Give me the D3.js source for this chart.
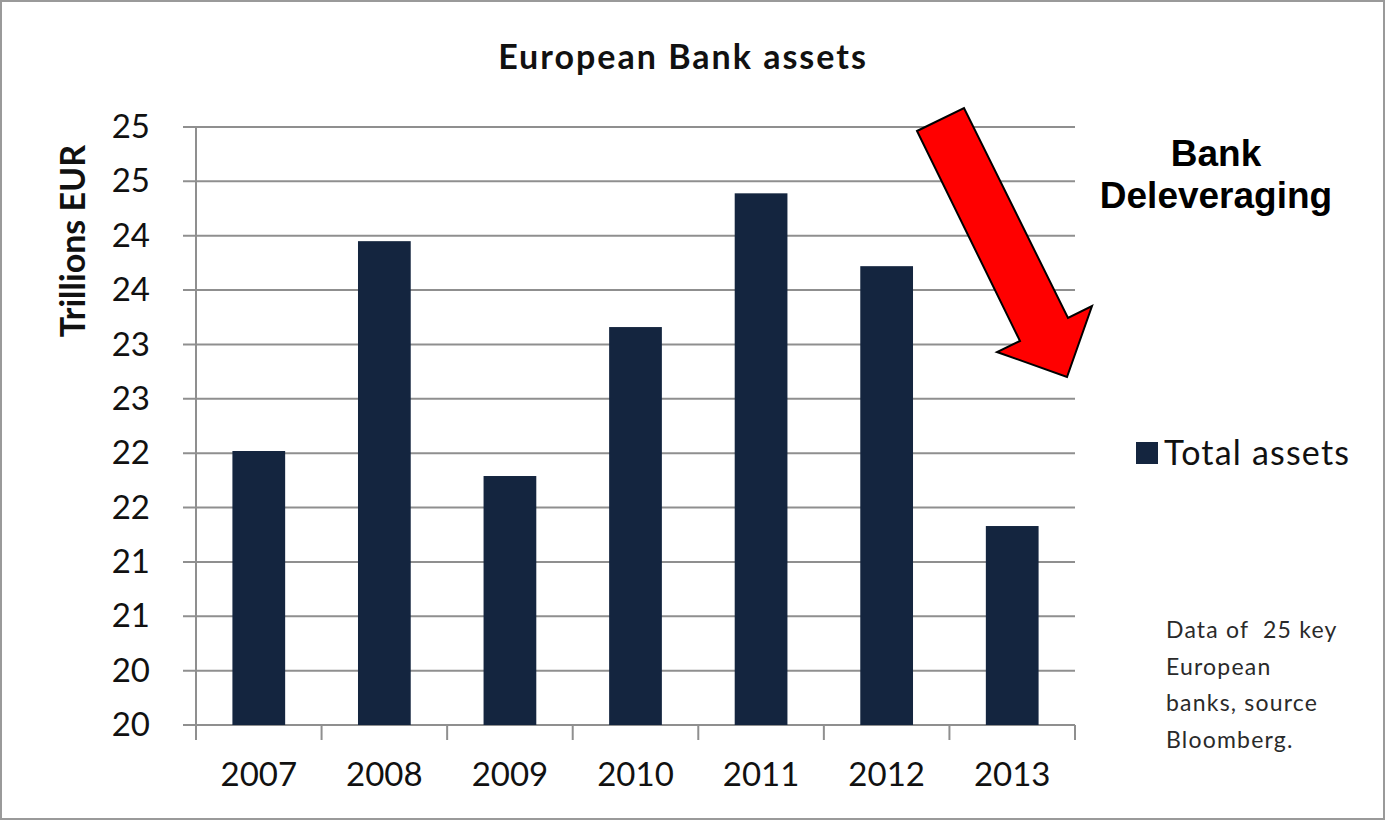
<!DOCTYPE html>
<html>
<head>
<meta charset="utf-8">
<script src="https://cdn.jsdelivr.net/npm/d3@7"></script>
<style>
  html, body { margin: 0; padding: 0; background: #fff; }
  svg { display: block; }
  text { font-family: Lato, "Open Sans", sans-serif; }
</style>
</head>
<body>
<svg id="chart" width="1385" height="820"></svg>
<script>
// Total assets of 25 key European banks, trillions EUR
const years = ["2007", "2008", "2009", "2010", "2011", "2012", "2013"];
const totalAssets = [22.02, 23.95, 21.79, 23.16, 24.39, 23.72, 21.33];
const yTicks = [19.5, 20, 20.5, 21, 21.5, 22, 22.5, 23, 23.5, 24, 24.5, 25];
const noteLines = ["Data of  25 key", "European", "banks, source", "Bloomberg."];
const headlineLines = ["Bank", "Deleveraging"];

const W = 1385, H = 820;
const plot = { left: 196, right: 1075, top: 127, bottom: 725 };
const barColor = "#14253f";
const gridColor = "#8f8f8f";

const svg = d3.select("#chart");

// Outer frame
svg.append("rect")
  .attr("x", 1).attr("y", 1).attr("width", W - 2).attr("height", H - 2)
  .attr("fill", "#fff").attr("stroke", "#9a9a9a").attr("stroke-width", 2);

const x = d3.scaleBand().domain(years).range([plot.left, plot.right]).padding(0);
const y = d3.scaleLinear().domain([19.5, 25]).range([plot.bottom, plot.top]);

// Horizontal grid lines (extend left as tick marks)
svg.append("g").selectAll("line").data(yTicks).join("line")
  .attr("x1", plot.left - 13).attr("x2", plot.right)
  .attr("y1", d => y(d)).attr("y2", d => y(d))
  .attr("stroke", gridColor).attr("stroke-width", 2);

// Bars
const barFrac = 0.42;
svg.append("g").selectAll("rect").data(years).join("rect")
  .attr("x", d => x(d) + x.bandwidth() * (1 - barFrac) / 2)
  .attr("width", x.bandwidth() * barFrac)
  .attr("y", (d, i) => y(totalAssets[i]))
  .attr("height", (d, i) => y(19.5) - y(totalAssets[i]))
  .attr("fill", barColor);

// Y axis
const yAxis = d3.axisLeft(y)
  .tickValues(yTicks)
  .tickFormat(d => Math.round(d))
  .tickSize(0)
  .tickPadding(46);
const gy = svg.append("g").attr("transform", `translate(${plot.left},0)`).call(yAxis);
gy.select(".domain").remove();
gy.selectAll("text")
  .attr("fill", "#111")
  .style("font-size", "33px")
  .style("font-family", "Lato, sans-serif");

svg.append("line")
  .attr("x1", plot.left).attr("x2", plot.left)
  .attr("y1", plot.top).attr("y2", plot.bottom + 15)
  .attr("stroke", gridColor).attr("stroke-width", 2);

// X axis: ticks on category boundaries
const boundaries = years.map(d => x(d)).concat([plot.right]);
svg.append("g").selectAll("line").data(boundaries).join("line")
  .attr("x1", d => d).attr("x2", d => d)
  .attr("y1", plot.bottom).attr("y2", plot.bottom + 15)
  .attr("stroke", gridColor).attr("stroke-width", 2);

const xAxis = d3.axisBottom(x).tickSize(0).tickPadding(38);
const gx = svg.append("g").attr("transform", `translate(0,${plot.bottom})`).call(xAxis);
gx.select(".domain").remove();
gx.selectAll("text")
  .attr("fill", "#111")
  .style("font-size", "33px")
  .style("font-family", "Lato, sans-serif");

// Title
svg.append("text")
  .attr("x", 683).attr("y", 69)
  .attr("text-anchor", "middle")
  .style("font-size", "34px").style("font-weight", "700")
  .style("letter-spacing", "2px")
  .attr("fill", "#111")
  .text("European Bank assets");

// Y axis title
svg.append("text")
  .attr("transform", "translate(85,241) rotate(-90)")
  .attr("text-anchor", "middle")
  .style("font-size", "34px").style("font-weight", "700")
  .attr("fill", "#111")
  .text("Trillions EUR");

// Legend
svg.append("rect")
  .attr("x", 1136).attr("y", 442).attr("width", 22).attr("height", 22)
  .attr("fill", barColor);
svg.append("text")
  .attr("x", 1164).attr("y", 465)
  .style("font-size", "34px")
  .style("letter-spacing", "1.2px")
  .attr("fill", "#111")
  .text("Total assets");

// Source note
svg.append("g").selectAll("text").data(noteLines).join("text")
  .attr("x", 1166).attr("y", (d, i) => 638 + i * 36.5)
  .style("font-size", "23px")
  .style("letter-spacing", "1.2px")
  .attr("fill", "#2a2a2a")
  .attr("xml:space", "preserve")
  .style("white-space", "pre")
  .text(d => d);

// Deleveraging annotation: red arrow and caption
const arrowPts = [
  [917, 131], [964, 108], [1068, 318], [1092, 306],
  [1067, 377], [997, 352], [1020, 341]
];
svg.append("path")
  .attr("d", d3.line()(arrowPts) + "Z")
  .attr("fill", "#ff0000")
  .attr("stroke", "#000").attr("stroke-width", 2)
  .attr("stroke-linejoin", "miter");

svg.append("g").selectAll("text").data(headlineLines).join("text")
  .attr("x", 1216).attr("y", (d, i) => 166 + i * 42)
  .attr("text-anchor", "middle")
  .style("font-family", "'Liberation Sans', Arial, sans-serif")
  .style("font-size", "37px").style("font-weight", "700")
  .attr("fill", "#000")
  .text(d => d);
</script>
</body>
</html>
